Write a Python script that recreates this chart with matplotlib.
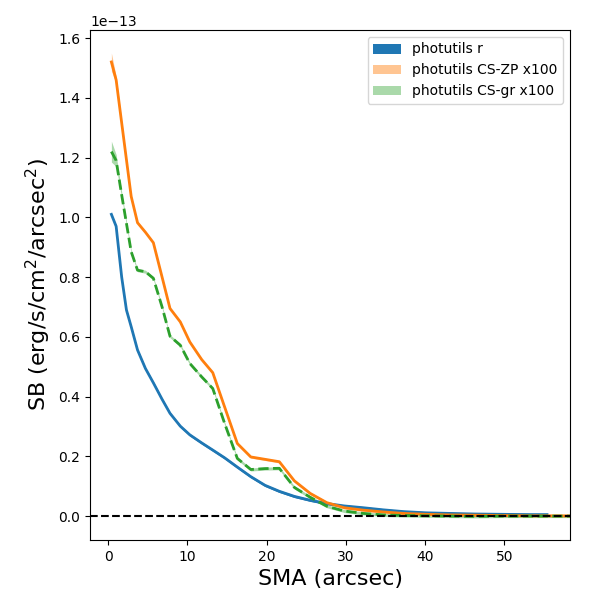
import numpy as np
import matplotlib
matplotlib.use('Agg')
import matplotlib.pyplot as plt

# SMA grid (arcsec)
sma = [0.4, 1.0, 1.7, 2.3, 2.9, 3.7, 4.7, 5.7, 6.8, 7.8, 9.1, 10.3, 11.8, 13.2,
       14.7, 16.3, 18.0, 19.8, 21.6, 23.5, 25.5, 27.6, 29.8, 32.2, 34.7, 37.3,
       40.1, 43.1, 46.3, 49.7, 53.3, 57.2, 61.4]
sma_r = sma[:31] + [55.4]

# surface brightness (1e-13 erg/s/cm2/arcsec2)
sb_r = [1.01, 0.97, 0.80, 0.69, 0.634, 0.556, 0.494, 0.446, 0.391, 0.344, 0.301,
        0.272, 0.245, 0.221, 0.195, 0.164, 0.132, 0.103, 0.083, 0.066, 0.053,
        0.042, 0.034, 0.028, 0.021, 0.015, 0.011, 0.009, 0.007, 0.006, 0.005, 0.005]
sb_zp = [1.52, 1.46, 1.316, 1.193, 1.07, 0.982, 0.95, 0.915, 0.80, 0.695, 0.650,
         0.583, 0.524, 0.480, 0.365, 0.243, 0.198, 0.190, 0.182, 0.118, 0.076,
         0.045, 0.028, 0.020, 0.014, 0.009, 0.006, 0.004, 0.003, 0.002, 0.001,
         0.001, 0.0]
sb_gr = [1.22, 1.19, 1.075, 0.98, 0.885, 0.823, 0.818, 0.796, 0.70, 0.602, 0.572,
         0.511, 0.466, 0.427, 0.31, 0.193, 0.156, 0.159, 0.160, 0.096, 0.063,
         0.033, 0.017, 0.009, 0.004, 0.002, 0.001, 0.0, -0.001, 0.0, 0.0, 0.0, 0.0]

# errors
err_r = [0.004] * len(sb_r)
err_zp = [0.03, 0.012, 0.008, 0.006, 0.005] + [0.004] * (len(sb_zp) - 5)
err_gr = [0.035, 0.02, 0.01, 0.008, 0.006] + [0.005] * (len(sb_gr) - 5)

sma = np.array(sma)
sma_r = np.array(sma_r)
sb_r = np.array(sb_r) * 1e-13
sb_zp = np.array(sb_zp) * 1e-13
sb_gr = np.array(sb_gr) * 1e-13
err_r = np.array(err_r) * 1e-13
err_zp = np.array(err_zp) * 1e-13
err_gr = np.array(err_gr) * 1e-13

fig, ax = plt.subplots(figsize=(6, 6), dpi=100)
fig.subplots_adjust(left=0.15, right=0.95, top=0.95, bottom=0.1)

ax.fill_between(sma_r, sb_r - err_r, sb_r + err_r, color='C0', lw=0,
                label='photutils r')
ax.plot(sma_r, sb_r, color='C0', lw=2)

ax.fill_between(sma, sb_zp - err_zp, sb_zp + err_zp, color='C1', alpha=0.45,
                lw=0, label='photutils CS-ZP x100')
ax.plot(sma, sb_zp, color='C1', lw=2)

ax.fill_between(sma, sb_gr - err_gr, sb_gr + err_gr, color='C2', alpha=0.4,
                lw=0, label='photutils CS-gr x100')
ax.plot(sma, sb_gr, color='C2', lw=2, ls='--')

ax.axhline(0, color='k', ls='--')

ax.set_xlim(-2.3, 58.3)
ax.set_ylim(-0.08e-13, 1.627e-13)
ax.set_xlabel('SMA (arcsec)', fontsize=16)
ax.set_ylabel('SB (erg/s/cm$^2$/arcsec$^2$)', fontsize=16)
ax.legend(loc='upper right')

plt.savefig('out.png')
